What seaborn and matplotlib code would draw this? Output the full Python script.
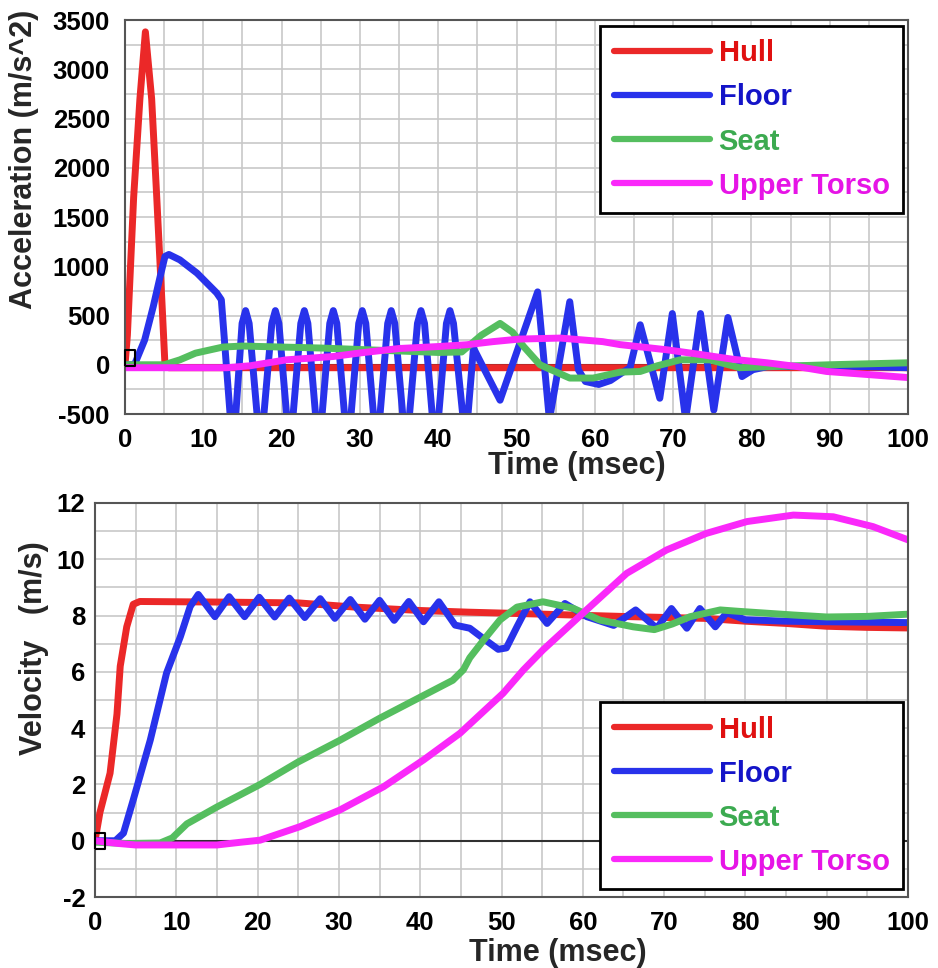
import pandas as pd
import seaborn as sns
import matplotlib.pyplot as plt
from matplotlib.ticker import MultipleLocator

# Datos
partes = ['Hull', 'Floor', 'Seat', 'Upper Torso']

# --- Aceleracion (m/s^2) ---
hull_t = [0, 0.3, 1.1, 1.9, 2.6, 3.4, 4.05, 4.7, 5.1, 5.6, 20, 40, 60, 80, 100]
hull_a = [0, 300, 1700, 2700, 3380, 2700, 1700, 660, 0, -30, -30, -30, -30, -30, -30]

floor_t = [0, 1.2, 2.5, 3.6, 4.5, 5.1, 5.6, 7.0, 9.2, 11.7, 12.3, 13.8,
           14.95, 15.4, 15.85, 17.3, 18.75, 19.2, 19.65, 21.05, 22.45, 22.9, 23.35, 24.75,
           26.15, 26.6, 27.05, 28.45, 29.85, 30.3, 30.75, 32.15, 33.55, 34.0, 34.45, 35.9,
           37.35, 37.8, 38.25, 39.65, 41.05, 41.5, 41.95,
           43.5, 44.5, 47.9, 52.7, 54.2, 56.8, 57.9, 58.8, 60.5, 62.0, 63.5, 64.5, 65.8,
           68.3, 69.9, 71.6, 73.5, 75.2, 77.0, 78.8, 80.2, 82, 90, 100]
floor_a = [0, 0, 250, 590, 900, 1100, 1120, 1065, 930, 730, 660, -900,
           420, 550, 420, -900, 420, 550, 420, -900, 420, 550, 420, -900,
           420, 550, 420, -900, 420, 550, 420, -900, 420, 550, 420, -900,
           420, 550, 420, -900, 420, 550, 420,
           -800, 170, -360, 740, -560, 640, -50, -170, -200, -160, -80, -30, 406,
           -340, 520, -560, 520, -460, 480, -120, -50, -20, -10, -30]

seat_t = [0, 5, 7, 9, 12.5, 15, 25, 35, 40, 43, 45.5, 47.9, 49.5, 50.9, 53, 56.8, 59.8,
          63.2, 65.8, 68, 70.9, 74.7, 78.5, 82, 90, 100]
seat_a = [0, 0, 50, 118, 180, 190, 170, 140, 125, 130, 300, 420, 330, 186, 0, -135, -135,
          -75, -68, -10, 50, 50, -30, -20, 0, 20]

torso_t = [0, 5, 10, 13, 16, 20.6, 26.6, 30, 35, 40, 43.6, 47, 50.4, 55.6, 58, 61, 63.2,
           69.2, 73, 77.7, 82, 86, 89.6, 95, 100]
torso_a = [-30, -30, -30, -30, -10, 50, 84, 120, 165, 185, 203, 235, 261, 271, 255, 235, 205,
           152, 110, 55, 20, -20, -68, -100, -130]

# --- Velocidad (m/s) ---
hull_vt = [0, 0.6, 1.85, 2.7, 3.1, 3.9, 4.7, 5.5, 15, 25, 32, 40, 46, 55, 66, 75, 80, 85, 90, 95, 100]
hull_v = [0, 1.0, 2.4, 4.5, 6.2, 7.6, 8.4, 8.5, 8.48, 8.45, 8.3, 8.18, 8.12, 8.05, 7.96, 7.9,
          7.8, 7.72, 7.62, 7.58, 7.56]

floor_vt = [0, 2.5, 3.5, 4.7, 6.8, 8.8, 10.5, 11.7, 12.7, 14.75, 16.5, 18.4, 20.2, 22.1, 23.9,
            25.8, 27.7, 29.5, 31.4, 33.2, 35.0, 36.8, 38.6, 40.4, 42.3, 44.3, 46.1, 47.7, 49.6,
            50.6, 51.9, 53.5, 55.6, 57.8, 60.5, 63.8, 66.5, 69.1, 70.9, 72.8, 74.4, 76.3, 77.7,
            80, 85, 90, 100]
floor_v = [0, 0, 0.27, 1.45, 3.58, 5.96, 7.25, 8.32, 8.75, 7.96, 8.67, 7.96, 8.65, 7.95, 8.62,
           7.93, 8.6, 7.9, 8.57, 7.87, 8.54, 7.83, 8.5, 7.78, 8.49, 7.66, 7.55, 7.2, 6.8,
           6.85, 7.6, 8.49, 7.72, 8.43, 7.96, 7.65, 8.2, 7.55, 8.25, 7.55, 8.25, 7.6, 8.1,
           7.85, 7.8, 7.78, 7.75]

seat_vt = [0, 4, 8, 9.5, 11.3, 15, 20.3, 25, 30, 35, 40, 44, 45.3, 46.1, 47.8, 49.8, 51.9,
           55.1, 58.8, 62.1, 66.2, 68.8, 71, 73.2, 76.9, 79.2, 85.9, 90, 95, 100]
seat_v = [-0.05, -0.1, -0.08, 0.1, 0.6, 1.2, 2.0, 2.8, 3.55, 4.35, 5.1, 5.7, 6.07, 6.5, 7.13,
          7.84, 8.3, 8.49, 8.26, 7.84, 7.6, 7.5, 7.7, 7.96, 8.2, 8.15, 8.02, 7.95, 7.97, 8.05]

torso_vt = [0, 3, 5, 10, 15, 18, 20.3, 25.2, 30.1, 35.5, 40.4, 44.9, 50.2, 52.7, 55.1, 60,
            65.4, 70.3, 75.2, 80.2, 85.9, 90.8, 95.7, 100]
torso_v = [0, -0.1, -0.15, -0.15, -0.15, -0.05, 0.02, 0.5, 1.09, 1.92, 2.87, 3.82, 5.24, 6.07,
           6.78, 8.08, 9.5, 10.33, 10.92, 11.34, 11.57, 11.51, 11.16, 10.69]

# marcador cuadrado en el origen
marca_t = [0.6]
marca_a = [70]
marca_v = [0]

colores = {'Hull': '#eb2828', 'Floor': '#2832eb', 'Seat': '#55be5f', 'Upper Torso': '#fa28fa'}
colores_texto = {'Hull': '#e01010', 'Floor': '#1414c8', 'Seat': '#3caa50', 'Upper Torso': '#e614e6'}


def armar_df(series):
    frames = [pd.DataFrame({'t': t, 'y': y, 'parte': nombre}) for nombre, (t, y) in zip(partes, series)]
    return pd.concat(frames, ignore_index=True)


df_acel = armar_df([(hull_t, hull_a), (floor_t, floor_a), (seat_t, seat_a), (torso_t, torso_a)])
df_vel = armar_df([(hull_vt, hull_v), (floor_vt, floor_v), (seat_vt, seat_v), (torso_vt, torso_v)])

sns.set_style('white')
plt.rcParams['font.family'] = ['Liberation Sans', 'DejaVu Sans']
plt.rcParams['font.weight'] = 'bold'
plt.rcParams['axes.unicode_minus'] = False

fig = plt.figure(figsize=(9.38, 9.68), dpi=100)
ax1 = fig.add_axes([0.1333, 0.5723, 0.8347, 0.4070])
ax2 = fig.add_axes([0.1013, 0.0733, 0.8667, 0.4071])

marca = [(-0.55, -1), (0.55, -1), (0.55, 1), (-0.55, 1), (-0.55, -1)]


def dibujar(ax, df, ylim, ymaj, ymin, marca_y, ylabel, ylab_xy, xlab_xy, leg_anchor, ypad):
    ax.axhline(0, color='#303030', lw=1.5, zorder=1.5)
    sns.lineplot(data=df, x='t', y='y', hue='parte', palette=colores, hue_order=partes,
                 linewidth=5, estimator=None, sort=False, ax=ax, zorder=2)
    ax.plot(marca_t, marca_y, marker=marca, ms=12, mfc='none', mec='black', mew=1.5,
            ls='none', zorder=4, clip_on=False)
    ax.set_xlim(0, 100)
    ax.set_ylim(*ylim)
    ax.xaxis.set_major_locator(MultipleLocator(10))
    ax.xaxis.set_minor_locator(MultipleLocator(5))
    ax.yaxis.set_major_locator(MultipleLocator(ymaj))
    ax.yaxis.set_minor_locator(MultipleLocator(ymin))
    ax.grid(which='both', color='#c8c8c8', lw=1.2)
    ax.set_axisbelow(True)
    for s in ax.spines.values():
        s.set_color('#555555')
        s.set_linewidth(1.5)
    ax.tick_params(which='major', direction='out', length=5, width=1.3, color='#555555',
                   labelsize=18.5, labelcolor='black')
    ax.tick_params(axis='x', which='major', pad=5)
    ax.tick_params(axis='y', which='major', pad=ypad)
    ax.tick_params(which='minor', length=0)
    for lab in ax.get_xticklabels() + ax.get_yticklabels():
        lab.set_fontweight('bold')

    ax.set_ylabel(ylabel, fontsize=22, fontweight='bold')
    ax.yaxis.set_label_coords(*ylab_xy)
    ax.set_xlabel('Time (msec)', fontsize=22, fontweight='bold')
    ax.xaxis.set_label_coords(*xlab_xy)

    handles, labels = ax.get_legend_handles_labels()
    leg = ax.legend(handles, labels, loc='upper right' if leg_anchor[1] > 0.5 else 'lower right',
                    bbox_to_anchor=leg_anchor, borderaxespad=0, fancybox=False, framealpha=1,
                    edgecolor='black', prop={'size': 21, 'weight': 'bold'},
                    handlelength=3.3, handletextpad=0.3, labelspacing=0.55, borderpad=0.46)
    leg.get_frame().set_linewidth(2)
    for linea in leg.get_lines():
        linea.set_linewidth(4.5)
    for txt in leg.get_texts():
        txt.set_color(colores_texto[txt.get_text()])


dibujar(ax1, df_acel, (-500, 3500), 500, 250, marca_a, 'Acceleration (m/s^2)',
        (-0.1105, 0.647), (0.577, -0.094), (0.9936, 0.9848), 6)
dibujar(ax2, df_vel, (-2, 12), 2, 1, marca_v, 'Velocity   (m/s)',
        (-0.0572, 0.632), (0.569, -0.104), (0.9938, 0.0203), 2)

plt.savefig('out.png', dpi=100)
